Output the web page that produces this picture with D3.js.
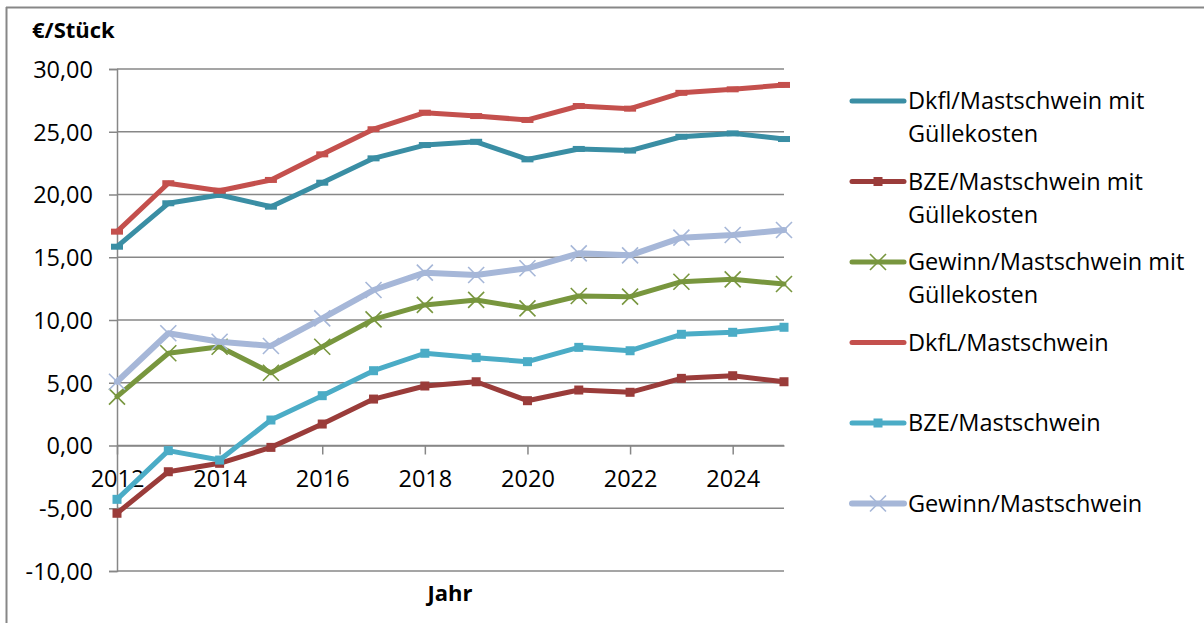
<!DOCTYPE html>
<html>
<head>
<meta charset="utf-8">
<script src="https://cdn.jsdelivr.net/npm/d3@7"></script>
<style>
  html, body { margin: 0; padding: 0; background: #fff; }
  svg { display: block; }
  text { font-family: "Open Sans", "Noto Sans", sans-serif; fill: #000; }
</style>
</head>
<body>
<svg id="chart" width="1204" height="623"></svg>
<script>
// Years on the category axis
const years = [2012, 2013, 2014, 2015, 2016, 2017, 2018, 2019, 2020, 2021, 2022, 2023, 2024, 2025];
const yearLabels = [2012, 2014, 2016, 2018, 2020, 2022, 2024];
const valueTicks = [-10, -5, 0, 5, 10, 15, 20, 25, 30];

// €/Stück per series
const dkflGuelle   = [15.84, 19.30, 19.96, 19.03, 20.94, 22.88, 23.94, 24.20, 22.80, 23.63, 23.50, 24.60, 24.87, 24.42];
const bzeGuelle    = [-5.40, -2.09, -1.42, -0.15, 1.71, 3.70, 4.74, 5.08, 3.57, 4.42, 4.24, 5.35, 5.56, 5.08];
const gewinnGuelle = [3.89, 7.35, 7.87, 5.80, 7.87, 10.05, 11.20, 11.60, 10.93, 11.91, 11.86, 13.05, 13.24, 12.87];
const dkfl         = [17.04, 20.90, 20.30, 21.16, 23.20, 25.20, 26.52, 26.25, 25.94, 27.05, 26.84, 28.10, 28.38, 28.73];
const bze          = [-4.29, -0.41, -1.16, 2.03, 3.97, 5.96, 7.35, 7.00, 6.68, 7.82, 7.55, 8.86, 9.02, 9.42];
const gewinn       = [5.08, 8.94, 8.27, 7.93, 10.13, 12.39, 13.77, 13.59, 14.12, 15.31, 15.15, 16.56, 16.77, 17.17];

const seriesNames = [
  ["Dkfl/Mastschwein mit", "Güllekosten"],
  ["BZE/Mastschwein mit", "Güllekosten"],
  ["Gewinn/Mastschwein mit", "Güllekosten"],
  ["DkfL/Mastschwein"],
  ["BZE/Mastschwein"],
  ["Gewinn/Mastschwein"]
];
const seriesValues = [dkflGuelle, bzeGuelle, gewinnGuelle, dkfl, bze, gewinn];
const seriesColors = ["#3A8EA4", "#9A3C3A", "#78963E", "#C4504D", "#4BACC6", "#A6B7D8"];
const seriesMarkers = ["dash", "square", "x", "dash", "square", "x"];
const seriesWidths = [5, 5, 5, 5, 5, 6];

const svg = d3.select("#chart");
const gridColor = "#878787";
const fontSize = 23.5;

// chart frame (top and left edges visible)
svg.append("line").attr("x1", 6).attr("x2", 1204).attr("y1", 7.5).attr("y2", 7.5)
  .attr("stroke", gridColor).attr("stroke-width", 2);
svg.append("line").attr("x1", 6.5).attr("x2", 6.5).attr("y1", 7).attr("y2", 623)
  .attr("stroke", gridColor).attr("stroke-width", 2);

const x = d3.scalePoint().domain(years).range([117, 784]);
const y = d3.scaleLinear().domain([-10, 30]).range([571, 69]);

// horizontal gridlines
svg.append("g").selectAll("line").data(valueTicks).join("line")
  .attr("x1", 117).attr("x2", 784)
  .attr("y1", d => y(d)).attr("y2", d => y(d))
  .attr("stroke", gridColor).attr("stroke-width", 1.5);

// value axis
const yAxis = d3.axisLeft(y).tickValues(valueTicks).tickSize(8).tickPadding(16)
  .tickFormat(d => d3.format(".2f")(d).replace(".", ",").replace("−", "-"));
const gy = svg.append("g").attr("transform", "translate(117,0)").call(yAxis);
gy.select(".domain").attr("stroke", gridColor).attr("stroke-width", 1.5);
gy.selectAll(".tick line").attr("stroke", gridColor).attr("stroke-width", 1.5);
gy.selectAll(".tick text").attr("font-size", fontSize).attr("dy", "0.36em")
  .attr("font-family", "'Open Sans', sans-serif").attr("fill", "#000");

// category axis crossing at zero
const xAxis = d3.axisBottom(x).tickValues(yearLabels).tickSize(9).tickPadding(16).tickSizeOuter(0);
const gx = svg.append("g").attr("transform", `translate(0,${y(0)})`).call(xAxis);
gx.select(".domain").attr("stroke", gridColor).attr("stroke-width", 1.5);
gx.selectAll(".tick line").attr("stroke", gridColor).attr("stroke-width", 1.5);
gx.selectAll(".tick text").attr("font-size", fontSize)
  .attr("font-family", "'Open Sans', sans-serif").attr("fill", "#000");

// axis titles
svg.append("text").attr("x", 32).attr("y", 38).attr("font-size", 22).attr("font-weight", "bold").text("€/Stück");
svg.append("text").attr("x", 450).attr("y", 601).attr("text-anchor", "middle").attr("font-size", 22).attr("font-weight", "bold").text("Jahr");

function drawMarker(g, type, cx, cy, color) {
  if (type === "square") {
    g.append("rect").attr("x", cx - 4.5).attr("y", cy - 4.5).attr("width", 9).attr("height", 9).attr("fill", color);
  } else if (type === "x") {
    const s = 8;
    g.append("path").attr("d", `M${cx - s},${cy - s}L${cx + s},${cy + s}M${cx - s},${cy + s}L${cx + s},${cy - s}`)
      .attr("stroke", color).attr("stroke-width", 1.6).attr("fill", "none");
  } else if (type === "dash") {
    g.append("rect").attr("x", cx - 6).attr("y", cy - 3).attr("width", 12).attr("height", 6).attr("fill", color);
  }
}

// series lines and markers
const line = d3.line().x((d, i) => x(years[i])).y(d => y(d));
seriesValues.forEach((vals, k) => {
  const g = svg.append("g");
  g.append("path").datum(vals).attr("d", line)
    .attr("fill", "none").attr("stroke", seriesColors[k]).attr("stroke-width", seriesWidths[k])
    .attr("stroke-linejoin", "round").attr("stroke-linecap", "round");
  vals.forEach((v, i) => drawMarker(g, seriesMarkers[k], x(years[i]), y(v), seriesColors[k]));
});

// legend
const legendTop = 101, legendStep = 80.5;
seriesNames.forEach((name, k) => {
  const cy = legendTop + k * legendStep;
  const g = svg.append("g");
  g.append("line").attr("x1", 852).attr("x2", 904).attr("y1", cy).attr("y2", cy)
    .attr("stroke", seriesColors[k]).attr("stroke-width", seriesWidths[k]).attr("stroke-linecap", "round");
  if (seriesMarkers[k] !== "dash") drawMarker(g, seriesMarkers[k], 878, cy, seriesColors[k]);
  const t = g.append("text").attr("x", 908).attr("y", cy + 8).attr("font-size", fontSize);
  name.forEach((ln, j) => t.append("tspan").attr("x", 908).attr("dy", j === 0 ? 0 : 33).text(ln));
});
</script>
</body>
</html>
